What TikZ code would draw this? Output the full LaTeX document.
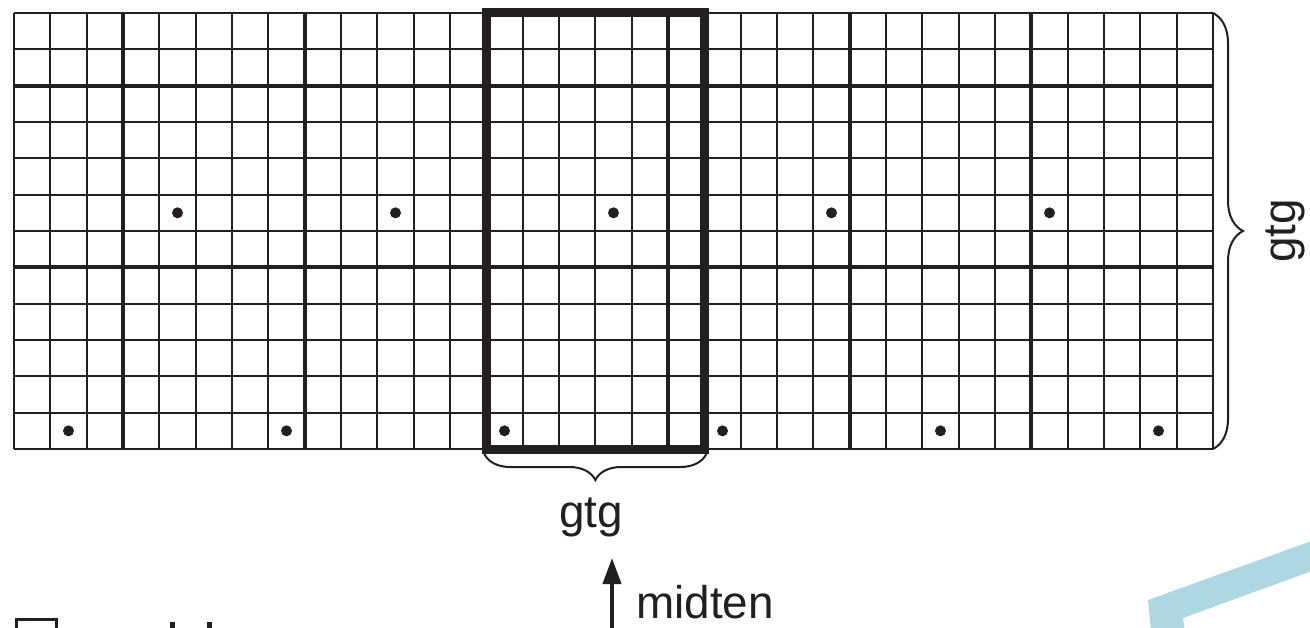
\documentclass[tikz,border=0pt]{standalone}
\usepackage{fontspec}
\setmainfont{Liberation Sans}
\usetikzlibrary{arrows.meta,decorations.pathreplacing}
\definecolor{ink}{RGB}{35,31,32}
\definecolor{cyanband}{RGB}{173,216,226}
\begin{document}
\begin{tikzpicture}[x=1bp,y=-1bp,
  thingrid/.style={draw=ink,line width=2bp},
  thickgrid/.style={draw=ink,line width=4bp},
  framebox/.style={draw=ink,line width=9bp},
  gdot/.style={fill=ink,circle,inner sep=0pt,minimum size=11bp},
  lbl/.style={font=\fontsize{46}{50}\selectfont,text=ink,inner sep=0pt},
  bracedeco/.style={draw=ink,line width=2bp,decorate},
  fragment/.style={fill=ink,draw=none}]
\useasboundingbox (0,0) rectangle (1310,628);
\clip (0,0) rectangle (1310,628);
\fill[white] (0,0) rectangle (1310,628);
\def\cs{36.3333}
% thin grid
\foreach \i in {0,...,33}{
  \draw[thingrid] ({14+\i*\cs},13) -- ({14+\i*\cs},449);
}
\foreach \j in {0,...,12}{
  \draw[thingrid] (14,{13+\j*\cs}) -- (1213,{13+\j*\cs});
}
% thick grid
\foreach \i in {3,8,13,18,23,28}{
  \draw[thickgrid] ({14+\i*\cs},13) -- ({14+\i*\cs},449);
}
\foreach \j in {2,7}{
  \draw[thickgrid] (14,{13+\j*\cs}) -- (1213,{13+\j*\cs});
}
% dots
\foreach \i [count=\k] in {4,10,16,22,28}{
  \node[gdot] (dm\k) at ({14+(\i+0.5)*\cs},{13+5.5*\cs}) {};
}
\foreach \i [count=\k] in {1,7,13,19,25,31}{
  \node[gdot] (db\k) at ({14+(\i+0.5)*\cs},{13+11.5*\cs}) {};
}
% highlighted box
\draw[framebox] ({14+13*\cs},13) rectangle ({14+19*\cs},449);
% right brace
\coordinate (rbtop) at (1213,13);
\coordinate (rbbot) at (1213,449);
\draw[bracedeco,decoration={brace,amplitude=30bp}] (rbtop) -- (rbbot);
\node[lbl,rotate=90] (gtgright) at (1285,231) {gtg};
% bottom brace
\coordinate (bbl) at ({14+13*\cs-2},454);
\coordinate (bbr) at ({14+19*\cs+2},454);
\draw[bracedeco,decoration={brace,amplitude=26bp}] (bbr) -- (bbl);
\node[lbl] (gtgbottom) at (591,517) {gtg};
% midten arrow
\coordinate (arrfoot) at (612,640);
\coordinate (arrtip) at (612,558);
\draw[draw=ink,line width=4bp,-{Triangle[length=26bp,width=18bp]}] (arrfoot) -- (arrtip);
\node[lbl,anchor=base west] (midten) at (636,618) {midten};
% cut-off legend at bottom left
\draw[draw=ink,line width=3bp] (16,619) rectangle (56,660);
\fill[fragment] (170,622) rectangle (175,640);
\fill[fragment] (207,622) rectangle (212,640);
% cyan band at bottom right
\fill[cyanband] (1148,600) -- (1320,538) -- (1320,568) -- (1183,618) -- (1186,640) -- (1152,640) -- cycle;
\end{tikzpicture}
\end{document}
